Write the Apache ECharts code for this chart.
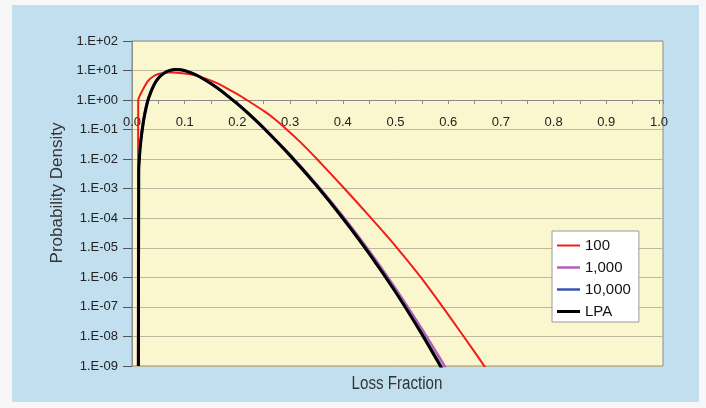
<!DOCTYPE html>
<html>
<head>
<meta charset="utf-8">
<script src="https://cdn.jsdelivr.net/npm/echarts@6/dist/echarts.min.js"></script>
<style>
  html, body { margin: 0; padding: 0; background: #fff; }
  #chart {
    width: 706px; height: 408px;
    background: linear-gradient(#c2dff0, #c2dff0) 12px 5px / 687px 397px no-repeat, #f7f7f7;
  }
</style>
</head>
<body>
<div id="chart"></div>
<script>
// Loss-fraction densities for finite pools of 100, 1,000 and 10,000 names,
// plus the large-pool approximation (LPA).
const loss100 = [0.0112, 0.0118, 0.02, 0.03, 0.04, 0.05, 0.06, 0.07, 0.08, 0.09, 0.10, 0.12, 0.14, 0.16, 0.18, 0.20, 0.22, 0.25, 0.27, 0.294, 0.32, 0.35, 0.40, 0.45, 0.50, 0.55, 0.60, 0.65, 0.68];
const density100 = [1e-9, 1.0, 2.15, 4.4, 6.3, 7.6, 8.3, 8.6, 8.6, 8.3, 7.9, 6.8, 5.25, 3.8, 2.5, 1.58, 0.95, 0.43, 0.234, 0.1, 0.037, 0.0105, 1.17e-3, 1.2e-4, 1.15e-5, 9.1e-7, 5.5e-8, 3.0e-9, 5e-10];

const loss1k = [0.0116, 0.0122, 0.0136, 0.0163, 0.0212, 0.0260, 0.0310, 0.0410, 0.0510, 0.0610, 0.0715, 0.0815, 0.0915, 0.1015, 0.1210, 0.1405, 0.1600, 0.1800, 0.2000, 0.2200, 0.2500, 0.3000, 0.3500, 0.4000, 0.4500, 0.5000, 0.5500, 0.5800, 0.5900, 0.6000];
const density1k = [1e-9, 4.0e-3, 1.2e-2, 4.4e-2, 0.20, 0.57, 1.22, 3.3, 6.0, 8.3, 9.9, 10.5, 10.4, 9.7, 7.2, 4.7, 2.78, 1.5, 0.77, 0.375, 0.118, 1.44e-2, 1.43e-3, 1.18e-4, 7.9e-6, 4.2e-7, 1.8e-8, 2.45e-9, 1.24e-9, 5.8e-10];

const loss10k = [0.0120, 0.0126, 0.0140, 0.0168, 0.0218, 0.0268, 0.0318, 0.0418, 0.0518, 0.0618, 0.0718, 0.0818, 0.0918, 0.1015, 0.1210, 0.1405, 0.1600, 0.1800, 0.2000, 0.2200, 0.2500, 0.3000, 0.3500, 0.4000, 0.4500, 0.5000, 0.5500, 0.5800, 0.5900];
const density10k = [1e-9, 4.0e-3, 1.2e-2, 4.4e-2, 0.20, 0.57, 1.22, 3.3, 6.0, 8.4, 10.0, 10.7, 10.55, 9.8, 7.2, 4.6, 2.7, 1.46, 0.745, 0.362, 0.112, 1.34e-2, 1.31e-3, 1.03e-4, 6.7e-6, 3.4e-7, 1.3e-8, 1.6e-9, 7.7e-10];

const lossLPA = [0.0122, 0.0128, 0.0142, 0.0170, 0.0220, 0.0270, 0.0320, 0.0420, 0.0520, 0.0620, 0.0720, 0.0820, 0.0920, 0.1015, 0.1210, 0.1405, 0.1600, 0.1800, 0.2000, 0.2200, 0.2500, 0.3000, 0.3500, 0.4000, 0.4500, 0.5000, 0.5500, 0.5800, 0.5900];
const densityLPA = [1e-9, 4.0e-3, 1.2e-2, 4.4e-2, 0.20, 0.57, 1.22, 3.3, 6.0, 8.4, 10.1, 10.8, 10.6, 9.8, 7.2, 4.6, 2.7, 1.45, 0.74, 0.36, 0.111, 1.32e-2, 1.28e-3, 1.0e-4, 6.4e-6, 3.2e-7, 1.2e-8, 1.44e-9, 6.9e-10];

const seriesNames = ['100', '1,000', '10,000', 'LPA'];
const seriesColors = ['#f21c1c', '#b95cb9', '#3a55b0', '#000000'];
const seriesWidths = [2, 2.5, 2.5, 3];

// Axis ranges
const xMin = 0, xMax = 1.0076;
const yMinExp = -9, yMaxExp = 2;

// Plot-area placement
const gridBox = { left: 132, top: 41, right: 43, bottom: 42 };
const chartHeight = 408;
const plotHeight = chartHeight - gridBox.top - gridBox.bottom;
// the labelled x axis crosses the log axis at a density of 1
const crossOffset = -plotHeight * (0 - yMinExp) / (yMaxExp - yMinExp);

const plainFont = '"Liberation Sans", Arial, sans-serif';

const pairs = (xs, ys) => xs.map((x, i) => [x, ys[i]]);
const curves = [
  pairs(loss100, density100),
  pairs(loss1k, density1k),
  pairs(loss10k, density10k),
  pairs(lossLPA, densityLPA)
];

const expLabel = v => {
  const e = Math.round(Math.log10(v));
  return '1.E' + (e < 0 ? '-' : '+') + String(Math.abs(e)).padStart(2, '0');
};

// flat line swatch for the legend, thickness in px out of a 23px width
const swatch = w => 'path://M0 0H23V' + w + 'H0Z';

const chart = echarts.init(document.getElementById('chart'), null, { renderer: 'canvas' });
chart.setOption({
  animation: false,
  backgroundColor: 'transparent',
  textStyle: { fontFamily: plainFont },
  grid: Object.assign({ show: true, backgroundColor: '#faf7cf', borderColor: '#8c8c8c', borderWidth: 1 }, gridBox),
  legend: {
    orient: 'vertical',
    left: 552, top: 231,
    padding: [7, 8, 3, 5],
    itemGap: 7, itemWidth: 23, itemHeight: 14,
    backgroundColor: '#ffffff', borderColor: '#9a9a9a', borderWidth: 1,
    textStyle: { fontSize: 15, color: '#111', fontFamily: plainFont },
    data: seriesNames.map((n, i) => ({ name: n, icon: swatch(seriesWidths[i]) }))
  },
  graphic: [
    {
      type: 'text',
      x: 397, y: 384, scaleX: 0.84,
      style: { text: 'Loss Fraction', fontSize: 18, fontFamily: plainFont, fill: '#333', align: 'center', verticalAlign: 'middle' }
    },
    {
      type: 'text',
      x: 57, y: 193, rotation: Math.PI / 2,
      style: { text: 'Probability Density', fontSize: 17, fontFamily: plainFont, fill: '#333', align: 'center', verticalAlign: 'middle' }
    }
  ],
  xAxis: [
    {
      type: 'value', min: xMin, max: xMax, position: 'bottom',
      axisLine: { show: false }, axisTick: { show: false },
      axisLabel: { show: false }, splitLine: { show: false }
    },
    {
      type: 'value', min: xMin, max: xMax, interval: 0.05, position: 'bottom',
      offset: crossOffset,
      axisLine: { onZero: false, lineStyle: { color: '#8a8a8a', width: 1 } },
      axisTick: { length: 4, lineStyle: { color: '#8a8a8a' } },
      axisLabel: {
        margin: 16, fontSize: 13, color: '#222', fontFamily: plainFont,
        formatter: v => {
          const k = Math.round(v * 100);
          return (k % 10 === 0 && v <= 1.0001) ? (k / 100).toFixed(1) : '';
        }
      },
      splitLine: { show: false }
    }
  ],
  yAxis: {
    type: 'log', logBase: 10,
    min: Math.pow(10, yMinExp), max: Math.pow(10, yMaxExp), interval: 1,
    axisLine: { show: true, lineStyle: { color: '#8c8c8c' } },
    axisTick: { show: true, length: 9, lineStyle: { color: '#555' } },
    axisLabel: { margin: 14, fontSize: 13, color: '#222', fontFamily: plainFont, formatter: expLabel },
    splitLine: { show: true, lineStyle: { color: '#bcb89c', width: 1 } }
  },
  series: curves.map((data, i) => ({
    name: seriesNames[i],
    type: 'line',
    xAxisIndex: 0,
    data: data,
    symbol: 'none',
    smooth: 0.2,
    clip: true,
    lineStyle: { color: seriesColors[i], width: seriesWidths[i] },
    itemStyle: { color: seriesColors[i] }
  }))
});
</script>
</body>
</html>
